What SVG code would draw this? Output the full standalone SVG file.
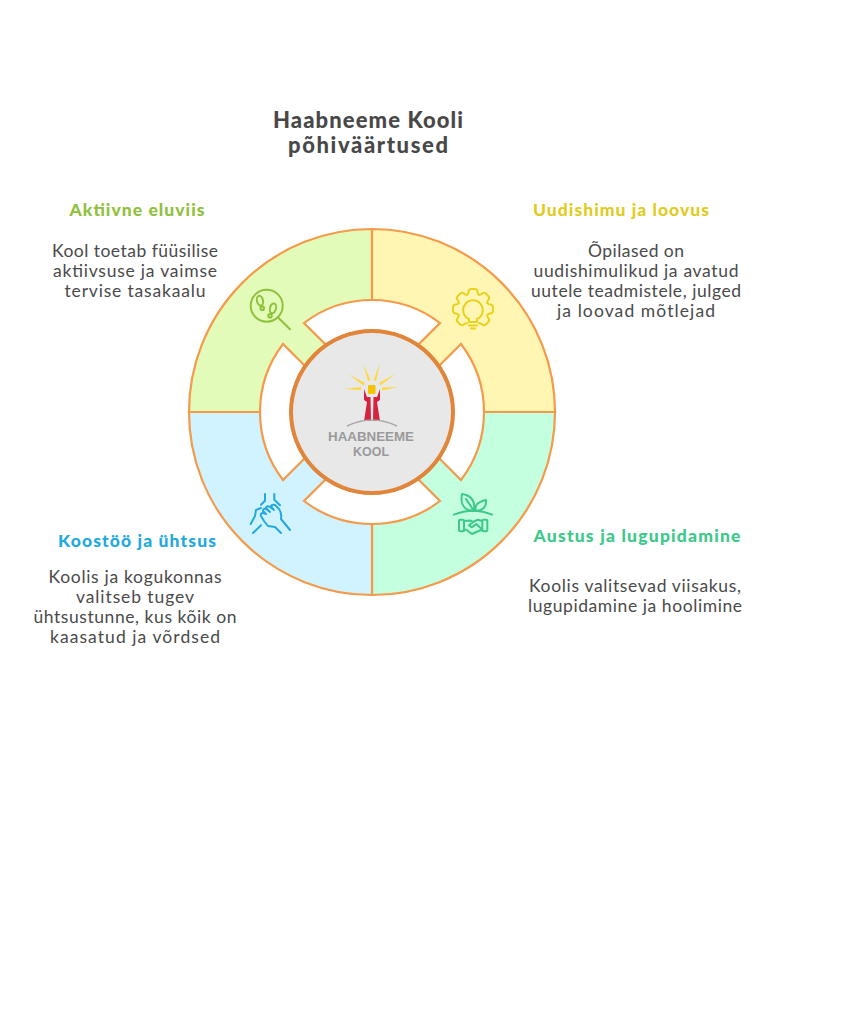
<svg xmlns="http://www.w3.org/2000/svg" width="848" height="1024" viewBox="0 0 848 1024">
<style>
text{font-family:"Lato","Noto Sans",sans-serif;text-anchor:middle}
.b{font-size:17.5px;fill:#4a4a4a}
.h{font-size:17.5px;font-weight:900}
.seg{stroke:#f59a4a;stroke-width:2.2}
.ic{fill:none;stroke-width:2;stroke-linecap:round;stroke-linejoin:round}
.logo{font-family:"Liberation Sans",Arial,sans-serif;font-size:13px;font-weight:700;fill:#9a9a9a}
</style>
<defs><path id="tooth" d="M-5.9,-14.3Q-4.5,-15.5 -4.5,-17Q-4.5,-20 -1.5,-20H1.5Q4.5,-20 4.5,-17Q4.5,-15.5 5.9,-14.3"/></defs>
<rect width="848" height="1024" fill="#fff"/>
<g id="title"><text x="368" y="128" font-size="22" font-weight="900" fill="#484848" textLength="190">Haabneeme Kooli</text><text x="368" y="153" font-size="22" font-weight="900" fill="#484848" textLength="160">põhiväärtused</text></g>
<g id="ring">
<path class="seg" fill="#e2fbb8" d="M372,412V229A183,183 0 0 0 189,412Z"/>
<path class="seg" fill="#fff6b3" d="M372,412V229A183,183 0 0 1 555,412Z"/>
<path class="seg" fill="#c4ffe0" d="M372,412V595A183,183 0 0 0 555,412Z"/>
<path class="seg" fill="#d0f3ff" d="M372,412V595A183,183 0 0 1 189,412Z"/>
<g fill="#fff">
<path class="seg" d="M304,323A112,112 0 0 1 440,323L415,348L372,412L329,348Z"/>
<path class="seg" d="M461,344A112,112 0 0 1 461,480L436,455L372,412L436,369Z"/>
<path class="seg" d="M440,501A112,112 0 0 1 304,501L329,476L372,412L415,476Z"/>
<path class="seg" d="M283,480A112,112 0 0 1 283,344L308,369L372,412L308,455Z"/>
</g>
</g>
<g id="center">
<circle cx="372" cy="412" r="81" fill="#e8e8e8" stroke="#e0853a" stroke-width="4"/>
<g fill="#ffd83d">
<path d="M344,389L361,387L361,390Z"/><path d="M398,387L382,387.5L382,390.5Z"/>
<path d="M348,374L365,383L363.5,385.5Z"/><path d="M395,374L379,383L380.5,385.5Z"/>
<path d="M363,363L370.5,380L368,381Z"/><path d="M380,363L376,381L373.5,380Z"/>
</g>
<rect x="368" y="385" width="7.5" height="9" rx="1" fill="#f5c400"/>
<path fill="#d3233f" d="M364,389L367,397H370.5L371,421H364L367,402L364,400ZM380,389L377,397H373.5L373,421H380L377,402L380,400Z"/>
<path d="M347,426Q372,414 397,426" fill="none" stroke="#a8a8a8" stroke-width="1.4"/>
<text class="logo" x="371" y="441" textLength="86" lengthAdjust="spacingAndGlyphs">HAABNEEME</text>
<text class="logo" x="371" y="456" textLength="36" lengthAdjust="spacingAndGlyphs">KOOL</text>
</g>
<g id="node-aktiivne">
<text class="h" x="137" y="216" fill="#8fc13c" textLength="135">Aktiivne eluviis</text>
<text class="b" x="135" y="257" textLength="166">Kool toetab füüsilise</text>
<text class="b" x="135" y="277" textLength="164">aktiivsuse ja vaimse</text>
<text class="b" x="135" y="297" textLength="141">tervise tasakaalu</text>
<g class="ic" stroke="#8fc13c"><circle cx="266.7" cy="305.7" r="16"/><path d="M278.3,317.7L290,329.3"/><ellipse cx="260" cy="300.7" rx="3" ry="5" transform="rotate(-15 260 300.7)"/><circle cx="262.3" cy="308.3" r="1.8"/><ellipse cx="273" cy="308.3" rx="3" ry="5" transform="rotate(15 273 308.3)"/><circle cx="270" cy="315.7" r="1.8"/></g>
</g>
<g id="node-uudishimu">
<text class="h" x="621" y="216" fill="#e0cc1f" textLength="176">Uudishimu ja loovus</text>
<text class="b" x="636" y="257" textLength="96">Õpilased on</text>
<text class="b" x="636" y="277" textLength="205">uudishimulikud ja avatud</text>
<text class="b" x="636" y="297" textLength="210">uutele teadmistele, julged</text>
<text class="b" x="636" y="317" textLength="158">ja loovad mõtlejad</text>
<g class="ic" stroke="#e8d21f"><path d="M469,322V319A9.8,9.8 0 1 1 477,319V322ZM469,325.5H477M471,328.5H475"/>
<g transform="translate(473 309)"><use href="#tooth"/><use href="#tooth" transform="rotate(45)"/><use href="#tooth" transform="rotate(90)"/><use href="#tooth" transform="rotate(135)"/><use href="#tooth" transform="rotate(225)"/><use href="#tooth" transform="rotate(270)"/><use href="#tooth" transform="rotate(315)"/></g></g>
</g>
<g id="node-austus">
<text class="h" x="637" y="542" fill="#3cc98a" textLength="207">Austus ja lugupidamine</text>
<text class="b" x="635" y="592" textLength="212">Koolis valitsevad viisakus,</text>
<text class="b" x="635" y="612" textLength="214">lugupidamine ja hoolimine</text>
<g class="ic" stroke="#3cc98a"><path d="M454,514.7Q473,506.7 492,514.7"/><path d="M462,494Q476,496 474,511Q459,510 462,494ZM466,499L474,511M476,511Q473,503 486,500Q487,510 476,511Z"/><rect x="459" y="519.7" width="5" height="11.6" rx="1"/><rect x="482.3" y="519.7" width="5" height="11.6" rx="1"/><path d="M464,521L470,520.5L473,522L478,519.7L482,521M464,529.7H466.3L472,534L476.3,532L482,529.7M473,522L469,525.3L472,527.3L476.3,524L481.3,528.7"/></g>
</g>
<g id="node-koostoo">
<text class="h" x="137" y="547" fill="#22a9df" textLength="158">Koostöö ja ühtsus</text>
<text class="b" x="135" y="583" textLength="173">Koolis ja kogukonnas</text>
<text class="b" x="135" y="603" textLength="118">valitseb tugev</text>
<text class="b" x="135" y="623" textLength="203">ühtsustunne, kus kõik on</text>
<text class="b" x="135" y="643" textLength="170">kaasatud ja võrdsed</text>
<g class="ic" stroke="#22a9df"><path d="M265,494V500.7L261,504.7M274.3,494V499.7L280,505.3M261,508L256,510L255,516L250.7,524M261,525.3L253,533M281,533L275,527L268,526L264,521L261,516Q260,513 263,513L266,514L263,511Q263,508 266,509L270,512L266,508Q267,505 270,507L274,510L271,506Q272,504 275,505L279,509Q282,513 281,519L290,530"/></g>
</g>
</svg>
